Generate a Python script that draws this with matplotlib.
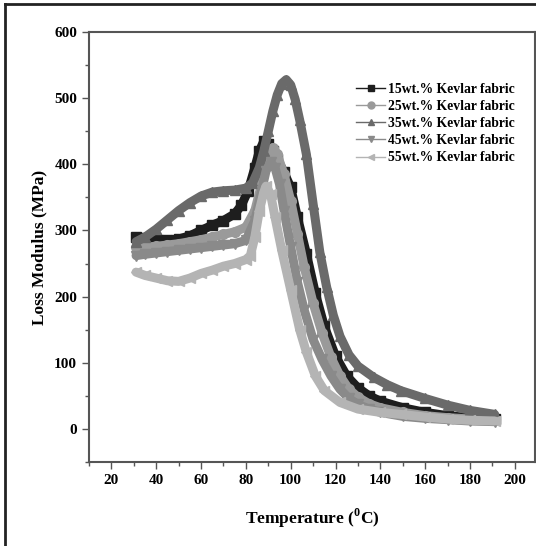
import matplotlib
matplotlib.use("Agg")
import matplotlib.pyplot as plt
from matplotlib.lines import Line2D
from matplotlib.ticker import MultipleLocator

plt.rcParams['font.family'] = ['Liberation Serif', 'DejaVu Serif']
plt.rcParams['font.weight'] = 'bold'
plt.rcParams['mathtext.fontset'] = 'custom'
plt.rcParams['mathtext.rm'] = 'Liberation Serif:bold'
plt.rcParams['mathtext.bf'] = 'Liberation Serif:bold'

# values
labels = ['15wt.% Kevlar fabric', '25wt.% Kevlar fabric', '35wt.% Kevlar fabric',
          '45wt.% Kevlar fabric', '55wt.% Kevlar fabric']

x15 = [31, 35, 40, 45, 50, 55, 60, 65, 70, 75, 78, 81, 84, 86, 88, 90, 92, 94, 97, 100,
       103, 107, 111, 115, 120, 125, 130, 135, 140, 150, 160, 170, 180, 191]
y15 = [290, 288, 287, 286, 287, 292, 300, 308, 315, 325, 338, 360, 395, 420, 435, 430, 420, 408, 388, 365,
       320, 265, 205, 155, 110, 80, 62, 50, 42, 32, 25, 20, 17, 15]

x25 = [31, 35, 40, 45, 50, 55, 60, 65, 70, 75, 80, 84, 87, 90, 92, 94, 97, 100, 103, 106,
       110, 114, 118, 122, 126, 130, 135, 140, 150, 160, 170, 180, 191]
y25 = [275, 275, 276, 278, 280, 283, 286, 290, 294, 298, 305, 330, 370, 410, 425, 415, 385, 345, 295, 245,
       190, 145, 108, 80, 60, 48, 38, 32, 25, 20, 17, 15, 13]

x35 = [31, 35, 40, 45, 50, 55, 60, 65, 70, 75, 80, 83, 86, 88, 90, 92, 94, 96, 98, 100,
       102, 104, 107, 110, 113, 116, 119, 122, 126, 130, 137, 143, 149, 160, 170, 180, 191]
y35 = [283, 290, 302, 316, 330, 342, 352, 358, 360, 361, 364, 372, 395, 420, 450, 480, 505, 522, 528, 520,
       498, 467, 415, 340, 267, 215, 172, 140, 112, 95, 78, 67, 58, 46, 36, 28, 22]

x45 = [31, 35, 40, 45, 50, 55, 60, 65, 70, 75, 80, 84, 87, 89, 91, 93, 95, 97, 100, 103,
       106, 110, 114, 118, 122, 126, 130, 135, 140, 150, 160, 170, 180, 191]
y45 = [262, 264, 266, 268, 270, 272, 274, 276, 278, 280, 285, 315, 360, 390, 403, 395, 370, 330, 275, 222,
       180, 135, 105, 80, 60, 46, 37, 30, 25, 19, 16, 14, 12, 11]

x55 = [31, 35, 40, 45, 50, 55, 60, 65, 70, 75, 80, 82, 84, 86, 88, 89, 91, 93, 96, 100,
       104, 107, 111, 115, 122, 130, 140, 149, 160, 170, 180, 191]
y55 = [237, 232, 228, 224, 223, 228, 235, 240, 246, 250, 256, 262, 290, 330, 358, 367, 355, 320, 270, 210,
       150, 116, 80, 58, 40, 30, 25, 22, 18, 15, 13, 12]

series_x = [x15, x25, x35, x45, x55]
series_y = [y15, y25, y35, y45, y55]
colors = ['#1e1e1e', '#9a9a9a', '#6a6a6a', '#8a8a8a', '#b4b4b4']
markers = ['s', 'o', '^', 'v', '<']

fig = plt.figure(figsize=(5.36, 5.46), dpi=100)
ax = fig.add_axes([89 / 536, 1 - 462 / 546, 446 / 536, 430 / 546])

for xs, ys, c, m in zip(series_x, series_y, colors, markers):
    ax.plot(xs, ys, color=c, lw=6.5, marker=m, ms=7, solid_joinstyle='round',
            solid_capstyle='round')

handles = [Line2D([], [], color=c, lw=1, marker=m, ms=5) for c, m in zip(colors, markers)]
ax.legend(handles, labels, loc='upper left', bbox_to_anchor=(0.572, 0.91), frameon=False,
          labelspacing=0.3, handlelength=2.1, handletextpad=0.25,
          prop={'weight': 'bold', 'size': 9.8})

ax.set_xlim(10, 209)
ax.set_ylim(-50, 600)
ax.xaxis.set_major_locator(MultipleLocator(20))
ax.xaxis.set_minor_locator(MultipleLocator(10))
ax.yaxis.set_major_locator(MultipleLocator(100))
ax.yaxis.set_minor_locator(MultipleLocator(50))
ax.tick_params(which='both', direction='out', color='#555555', labelsize=11)
ax.tick_params(which='major', length=5, width=1)
ax.tick_params(which='minor', length=3, width=1)
for s in ax.spines.values():
    s.set_color('#555555')
    s.set_linewidth(1.5)
for t in ax.get_xticklabels() + ax.get_yticklabels():
    t.set_fontweight('bold')

ax.set_xlabel('Temperature ($^{0}$C)', fontsize=12.5, fontweight='bold', labelpad=14)
ax.set_ylabel('Loss Modulus (MPa)', fontsize=12.5, fontweight='bold', labelpad=5)

# outer frame of the original figure
fig.add_artist(Line2D([5 / 536, 5 / 536], [0, 1 - 4 / 546], color='#222222', lw=2))
fig.add_artist(Line2D([5 / 536, 1], [1 - 4 / 546, 1 - 4 / 546], color='#222222', lw=2))

fig.savefig('out.png', dpi=100)
